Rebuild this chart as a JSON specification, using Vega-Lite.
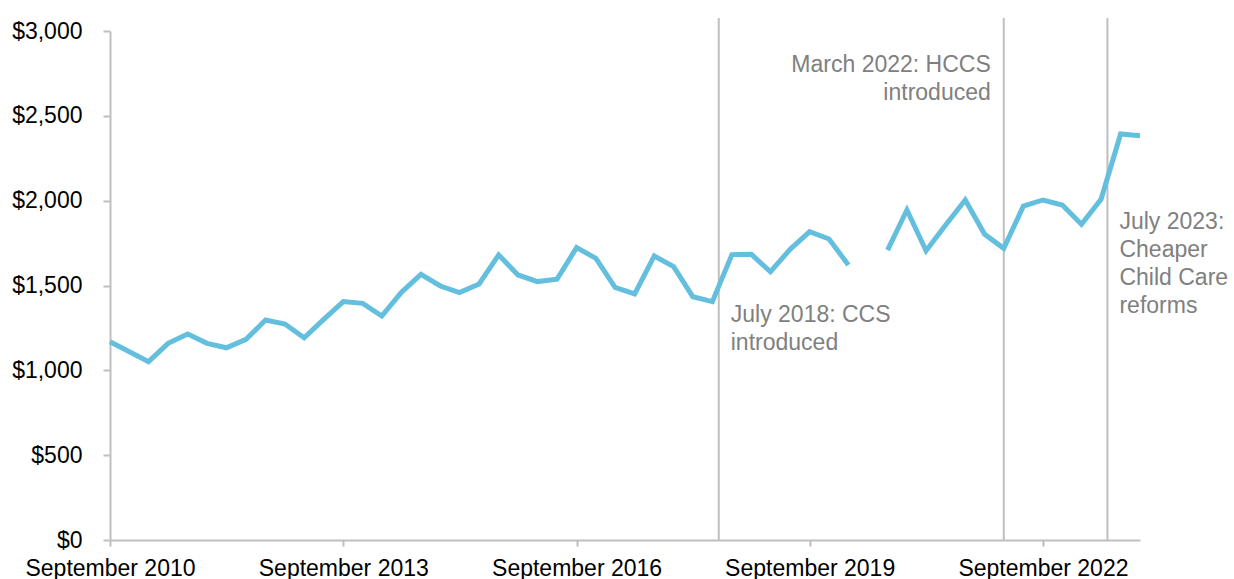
{
  "$schema": "https://vega.github.io/schema/vega-lite/v6.json",
  "width": 1030,
  "height": 509,
  "autosize": "none",
  "padding": {"left": 110, "top": 31, "right": 94, "bottom": 39},
  "background": "white",
  "config": {
    "view": {"stroke": null},
    "font": "Liberation Sans",
    "axis": {"labelFont": "Liberation Sans", "labelFontSize": 23, "labelColor": "#000000", "domainColor": "#bfbfbf", "tickColor": "#bfbfbf", "domainWidth": 2, "tickWidth": 2, "grid": false, "title": null, "labelLimit": 0}
  },
  "datasets": {
    "cost": [
      {"date": "2010-09-01", "value": 1169},
      {"date": "2010-12-01", "value": 1110},
      {"date": "2011-03-01", "value": 1051},
      {"date": "2011-06-01", "value": 1159},
      {"date": "2011-09-01", "value": 1214},
      {"date": "2011-12-01", "value": 1159},
      {"date": "2012-03-01", "value": 1133},
      {"date": "2012-06-01", "value": 1183},
      {"date": "2012-09-01", "value": 1297},
      {"date": "2012-12-01", "value": 1273},
      {"date": "2013-03-01", "value": 1192},
      {"date": "2013-06-01", "value": 1300},
      {"date": "2013-09-01", "value": 1405},
      {"date": "2013-12-01", "value": 1395},
      {"date": "2014-03-01", "value": 1320},
      {"date": "2014-06-01", "value": 1460},
      {"date": "2014-09-01", "value": 1566},
      {"date": "2014-12-01", "value": 1497},
      {"date": "2015-03-01", "value": 1458},
      {"date": "2015-06-01", "value": 1509},
      {"date": "2015-09-01", "value": 1680},
      {"date": "2015-12-01", "value": 1562},
      {"date": "2016-03-01", "value": 1523},
      {"date": "2016-06-01", "value": 1537},
      {"date": "2016-09-01", "value": 1723},
      {"date": "2016-12-01", "value": 1660},
      {"date": "2017-03-01", "value": 1489},
      {"date": "2017-06-01", "value": 1450},
      {"date": "2017-09-01", "value": 1674},
      {"date": "2017-12-01", "value": 1611},
      {"date": "2018-03-01", "value": 1434},
      {"date": "2018-06-01", "value": 1405},
      {"date": "2018-09-01", "value": 1682},
      {"date": "2018-12-01", "value": 1684},
      {"date": "2019-03-01", "value": 1581},
      {"date": "2019-06-01", "value": 1713},
      {"date": "2019-09-01", "value": 1817},
      {"date": "2019-12-01", "value": 1774},
      {"date": "2020-03-01", "value": 1621},
      {"date": "2020-06-01", "value": null},
      {"date": "2020-09-01", "value": 1709},
      {"date": "2020-12-01", "value": 1945},
      {"date": "2021-03-01", "value": 1705},
      {"date": "2021-06-01", "value": 1857},
      {"date": "2021-09-01", "value": 2004},
      {"date": "2021-12-01", "value": 1802},
      {"date": "2022-03-01", "value": 1719},
      {"date": "2022-06-01", "value": 1968},
      {"date": "2022-09-01", "value": 2004},
      {"date": "2022-12-01", "value": 1974},
      {"date": "2023-03-01", "value": 1861},
      {"date": "2023-06-01", "value": 2008},
      {"date": "2023-09-01", "value": 2393},
      {"date": "2023-12-01", "value": 2383}
    ],
    "events": [
      {"date": "2018-07-01", "top": 3077, "bottom": 0},
      {"date": "2022-03-01", "top": 3077, "bottom": 0},
      {"date": "2023-07-01", "top": 3077, "bottom": 0}
    ],
    "notes": [
      {"date": "2018-07-01", "value": 1287, "side": "right", "label": ["July 2018: CCS", "introduced"]},
      {"date": "2022-03-01", "value": 2760, "side": "left", "label": ["March 2022: HCCS", "introduced"]},
      {"date": "2023-07-01", "value": 1832, "side": "right", "label": ["July 2023:", "Cheaper", "Child Care", "reforms"]}
    ]
  },
  "layer": [
    {
      "data": {"name": "events"},
      "mark": {"type": "rule", "color": "#bfbfbf", "strokeWidth": 2, "clip": false},
      "encoding": {
        "x": {"field": "date", "type": "temporal"},
        "y": {"field": "bottom", "type": "quantitative"},
        "y2": {"field": "top"}
      }
    },
    {
      "data": {"name": "cost"},
      "mark": {"type": "line", "color": "#64bfdf", "strokeWidth": 5, "invalid": "break-paths-filter-domains", "strokeJoin": "miter", "strokeCap": "butt"},
      "encoding": {
        "x": {
          "field": "date", "type": "temporal",
          "scale": {"type": "utc", "domain": ["2010-09-01", "2023-12-01"]},
          "axis": {
            "values": ["2010-09-01", "2013-09-01", "2016-09-01", "2019-09-01", "2022-09-01"],
            "labelExpr": "utcFormat(datum.value, '%B %Y')",
            "tickSize": 6, "labelPadding": 11, "labelFlush": false, "labelOverlap": false
          }
        },
        "y": {
          "field": "value", "type": "quantitative",
          "scale": {"domain": [0, 3000], "nice": false},
          "axis": {"values": [0, 500, 1000, 1500, 2000, 2500, 3000], "format": "$,.0f", "tickSize": 7, "labelPadding": 21}
        }
      }
    },
    {
      "data": {"name": "notes"},
      "transform": [{"filter": "datum.side === 'right'"}],
      "mark": {"type": "text", "align": "left", "baseline": "alphabetic", "dx": 12, "fontSize": 23, "lineHeight": 28, "color": "#808080", "font": "Liberation Sans"},
      "encoding": {
        "x": {"field": "date", "type": "temporal"},
        "y": {"field": "value", "type": "quantitative"},
        "text": {"field": "label"}
      }
    },
    {
      "data": {"name": "notes"},
      "transform": [{"filter": "datum.side === 'left'"}],
      "mark": {"type": "text", "align": "right", "baseline": "alphabetic", "dx": -13, "fontSize": 23, "lineHeight": 28, "color": "#808080", "font": "Liberation Sans"},
      "encoding": {
        "x": {"field": "date", "type": "temporal"},
        "y": {"field": "value", "type": "quantitative"},
        "text": {"field": "label"}
      }
    }
  ]
}
